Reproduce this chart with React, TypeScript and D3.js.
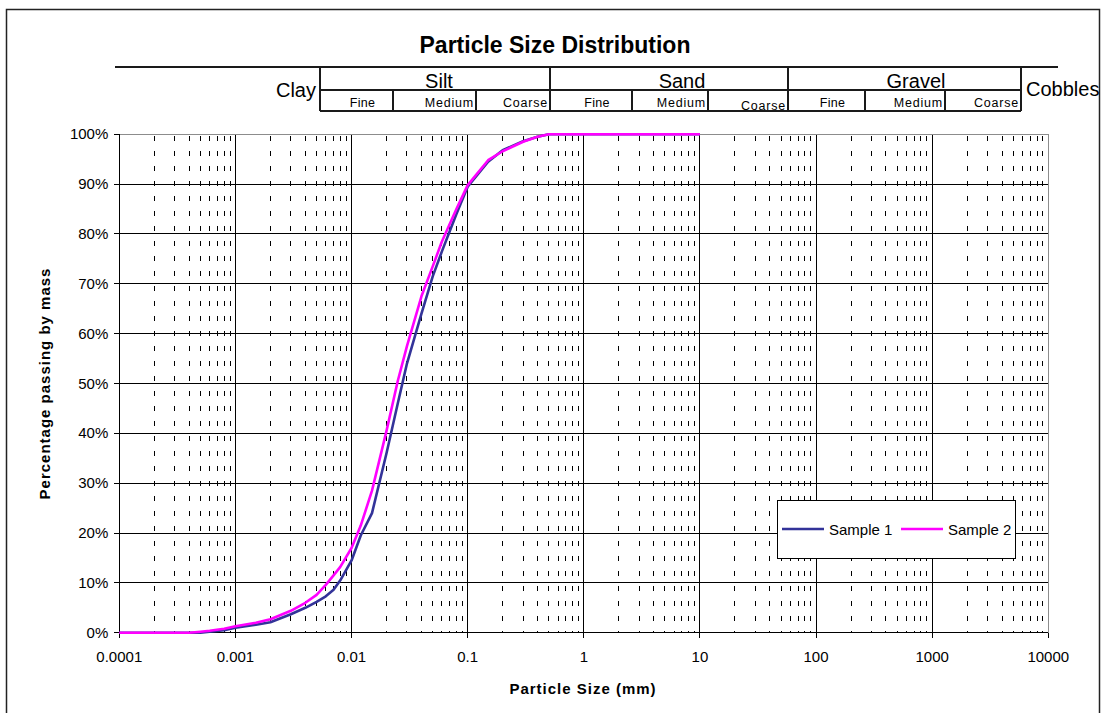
import * as d3 from "d3";

const W = 1104;
const H = 713;
const FONT = "'Liberation Sans', Arial, Helvetica, sans-serif";

// particle sizes (mm) shared by both samples
const sizes = [
  0.0001, 0.0002, 0.0003, 0.0004, 0.0005, 0.0006, 0.0008, 0.001, 0.0015,
  0.002, 0.003, 0.004, 0.005, 0.006, 0.007, 0.008, 0.01, 0.012, 0.015, 0.02,
  0.025, 0.03, 0.04, 0.05, 0.06, 0.08, 0.1, 0.15, 0.2, 0.3, 0.4, 0.5, 1, 2, 5,
  10,
];

// percentage passing
const sample1 = [
  0, 0, 0, 0, 0, 0.2, 0.5, 1.0, 1.6, 2.1, 3.7, 5.0, 6.2, 7.3, 8.6, 10.5,
  14.5, 19.5, 24, 36, 46, 54, 64, 71.5, 76.5, 84, 89.5, 94.5, 96.8, 98.6,
  99.5, 100, 100, 100, 100, 100,
];
const sample2 = [
  0, 0, 0, 0, 0.2, 0.4, 0.8, 1.3, 2.0, 2.7, 4.4, 6.0, 7.6, 9.6, 11.5, 13.2,
  17, 21.5, 28.5, 40.5, 50.5, 57.5, 67.5, 73.5, 78.5, 85, 89.8, 94.8, 96.6,
  98.5, 99.5, 100, 100, 100, 100, 100,
];

const seriesNames = ["Sample 1", "Sample 2"];
const seriesColors = ["#333399", "#FF00FF"];

const xTicks = [0.0001, 0.001, 0.01, 0.1, 1, 10, 100, 1000, 10000];
const xTickLabels = ["0.0001", "0.001", "0.01", "0.1", "1", "10", "100", "1000", "10000"];
const yTicks = [0, 10, 20, 30, 40, 50, 60, 70, 80, 90, 100];
const minorSteps = [2, 3, 4, 5, 6, 7, 8, 9];

const fractions = ["Silt", "Sand", "Gravel"];
const subFractions = ["Fine", "Medium", "Coarse"];

// plot frame
const PL = 119.3;
const PR = 1048.3;
const PT = 134.3;
const PB = 632.7;

// classification header layout (pixels, drawn by hand in the original)
const HDR = { top: 67, mid: 90, bottom: 111, lineStart: 115, lineEnd: 1058 };
const colEdges = [
  [320, 393, 476, 550],
  [550, 632, 708, 788],
  [788, 865, 945, 1021],
];
const majorLabelX = [439, 682, 916];

export default function App() {
  const x = d3.scaleLog().domain([0.0001, 10000]).range([PL, PR]);
  const y = d3.scaleLinear().domain([0, 100]).range([PB, PT]);

  const minors: number[] = [];
  for (let k = 0; k < xTicks.length - 1; k++) {
    for (const m of minorSteps) minors.push(m * xTicks[k]);
  }

  const series = [sample1, sample2].map((vals) =>
    sizes.map((s, i) => [s, vals[i]] as [number, number]),
  );
  const line = d3
    .line<[number, number]>()
    .x((d) => x(d[0]))
    .y((d) => y(d[1]));

  const lg = { x: 777, y: 500, w: 238, h: 58 };

  return (
    <svg
      width={W}
      height={H}
      style={{ position: "absolute", left: 0, top: 0, background: "#fff" }}
      fontFamily={FONT}
    >
      {/* outer chart border */}
      <rect x={6.5} y={9.5} width={1093} height={720} fill="none" stroke="#222" strokeWidth={1.5} />

      <text x={555} y={53} textAnchor="middle" fontSize={23} fontWeight="bold" fill="#000">
        Particle Size Distribution
      </text>

      {/* classification header */}
      <g stroke="#1a1a1a" strokeWidth={1.5} shapeRendering="crispEdges">
        <line x1={HDR.lineStart} x2={HDR.lineEnd} y1={HDR.top} y2={HDR.top} />
        <line x1={colEdges[0][0]} x2={colEdges[2][3]} y1={HDR.mid} y2={HDR.mid} />
        <line x1={colEdges[0][0]} x2={colEdges[2][3]} y1={HDR.bottom} y2={HDR.bottom} />
        {colEdges.map((c, i) => (
          <g key={i}>
            <line x1={c[0]} x2={c[0]} y1={HDR.top} y2={HDR.bottom} />
            <line x1={c[3]} x2={c[3]} y1={HDR.top} y2={HDR.bottom} />
            <line x1={c[1]} x2={c[1]} y1={HDR.mid} y2={HDR.bottom} />
            <line x1={c[2]} x2={c[2]} y1={HDR.mid} y2={HDR.bottom} />
          </g>
        ))}
      </g>
      <g fill="#000">
        <text x={316} y={97} textAnchor="end" fontSize={20}>Clay</text>
        <text x={1026} y={96} fontSize={20}>Cobbles</text>
        {fractions.map((f, i) => (
          <text key={f} x={majorLabelX[i]} y={88} textAnchor="middle" fontSize={20}>
            {f}
          </text>
        ))}
        {colEdges.map((c, i) =>
          subFractions.map((s, j) => {
            const isFine = j === 0;
            const tx = isFine ? (c[0] + c[1]) / 2 + 6 : c[j + 1] - 2;
            const ty = i === 1 && j === 2 ? 110 : 106.5;
            return (
              <text
                key={`${i}-${j}`}
                x={tx}
                y={ty}
                textAnchor={isFine ? "middle" : "end"}
                fontSize={12.5}
                letterSpacing={isFine ? 0.3 : 0.8}
              >
                {s}
              </text>
            );
          }),
        )}
      </g>

      {/* grid */}
      <g shapeRendering="crispEdges">
        {minors.map((v, i) => (
          <line
            key={i}
            x1={x(v)}
            x2={x(v)}
            y1={PT}
            y2={PB}
            stroke="#000"
            strokeWidth={1}
            strokeDasharray="5,10"
            strokeDashoffset={13.5}
          />
        ))}
        {yTicks.slice(1, -1).map((t) => (
          <line key={t} x1={PL} x2={PR} y1={y(t)} y2={y(t)} stroke="#000" strokeWidth={1} />
        ))}
        {xTicks.slice(1, -1).map((t) => (
          <line key={t} x1={x(t)} x2={x(t)} y1={PT} y2={PB} stroke="#000" strokeWidth={1} />
        ))}
        {/* plot frame top & right */}
        <line x1={PL} x2={PR} y1={PT} y2={PT} stroke="#8c8c8c" strokeWidth={1} />
        <line x1={PR} x2={PR} y1={PT} y2={PB} stroke="#8c8c8c" strokeWidth={1} />
        {/* axes */}
        <line x1={PL} x2={PL} y1={PT} y2={PB} stroke="#000" strokeWidth={1} />
        <line x1={PL} x2={PR} y1={PB} y2={PB} stroke="#000" strokeWidth={1} />
        {yTicks.map((t) => (
          <line key={t} x1={PL - 5} x2={PL} y1={y(t)} y2={y(t)} stroke="#000" strokeWidth={1} />
        ))}
        {xTicks.map((t) => (
          <line key={t} x1={x(t)} x2={x(t)} y1={PB} y2={PB + 5} stroke="#000" strokeWidth={1} />
        ))}
      </g>

      {/* tick labels */}
      <g fontSize={15} fill="#000">
        {yTicks.map((t) => (
          <text key={t} x={PL - 11} y={y(t) + 5} textAnchor="end">
            {t}%
          </text>
        ))}
        {xTicks.map((t, i) => (
          <text key={t} x={x(t)} y={662} textAnchor="middle">
            {xTickLabels[i]}
          </text>
        ))}
      </g>

      {/* axis titles */}
      <text x={583} y={694} textAnchor="middle" fontSize={15} fontWeight="bold" letterSpacing={1}>
        Particle Size (mm)
      </text>
      <text
        transform={`translate(50,${(PT + PB) / 2}) rotate(-90)`}
        textAnchor="middle"
        fontSize={15}
        fontWeight="bold"
        letterSpacing={1}
      >
        Percentage passing by mass
      </text>

      {/* curves */}
      {series.map((s, i) => (
        <path
          key={i}
          d={line(s) ?? ""}
          fill="none"
          stroke={seriesColors[i]}
          strokeWidth={2.6}
          strokeLinejoin="round"
        />
      ))}

      {/* legend */}
      <rect x={lg.x + 0.5} y={lg.y + 0.5} width={lg.w} height={lg.h} fill="#fff" stroke="#000" strokeWidth={1} />
      {seriesNames.map((n, i) => {
        const ox = lg.x + 5 + i * 119;
        const cy = lg.y + 29;
        return (
          <g key={n}>
            <line x1={ox} x2={ox + 42} y1={cy} y2={cy} stroke={seriesColors[i]} strokeWidth={2.6} />
            <text x={ox + 47} y={cy + 5.5} fontSize={15} fill="#000">
              {n}
            </text>
          </g>
        );
      })}
    </svg>
  );
}
